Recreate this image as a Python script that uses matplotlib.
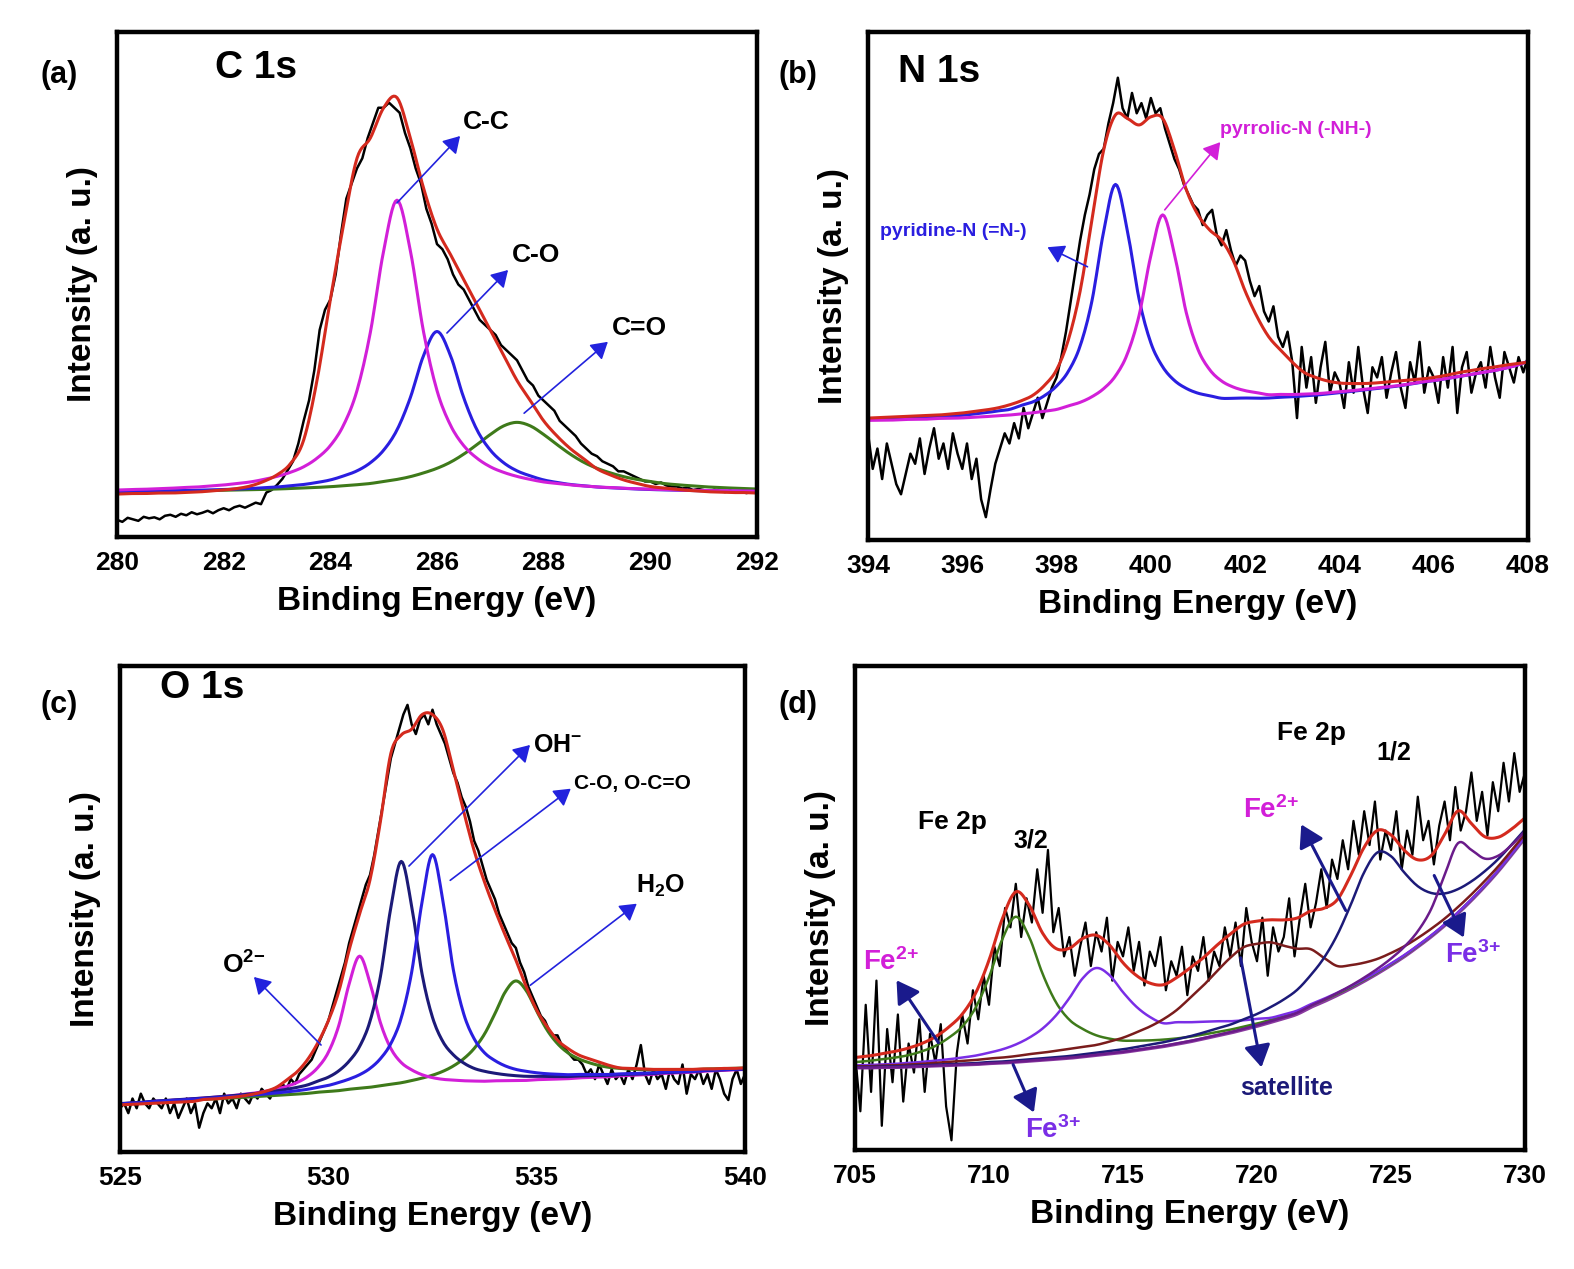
import numpy as np
import matplotlib
matplotlib.use("Agg")
import matplotlib.pyplot as plt

plt.rcParams['font.family'] = ['Liberation Sans', 'DejaVu Sans']
plt.rcParams['font.weight'] = 'bold'
plt.rcParams['mathtext.fontset'] = 'custom'
plt.rcParams['mathtext.bf'] = 'Liberation Sans:bold'
plt.rcParams['mathtext.rm'] = 'Liberation Sans:bold'
plt.rcParams['mathtext.default'] = 'bf'

W, H = 1574, 1269

# ---------------- (a) C 1s ----------------
a_raw_x0, a_raw_step = 280.0, 0.1
a_raw = [3.4, 3.0, 3.8, 3.5, 3.2, 4.0, 3.7, 3.9, 3.5, 4.2,
         4.4, 4.0, 4.6, 4.3, 4.9, 4.5, 4.8, 5.2, 4.7, 5.3,
         5.7, 5.3, 5.9, 6.2, 5.8, 6.3, 6.8, 6.5, 8.8, 9.3,
         10.3, 11.5, 13.2, 15.0, 18.5, 23, 27, 33, 41, 45,
         47, 52, 60, 67, 70, 73, 75, 79, 82, 85,
         85, 86, 85, 84, 80, 77, 73, 70, 65, 62,
         58, 57, 55, 52, 50, 49, 47, 45, 43, 42,
         41, 40, 38, 37, 36, 35, 33, 31, 30, 28,
         27, 26, 25, 23, 22, 21, 20, 18.5, 17.5, 16.5,
         16, 15, 14.5, 14, 13, 13, 12.5, 12, 11.5, 11,
         11, 10.5, 10.8, 10.2, 10, 10, 9.6, 9.8, 9.3, 9.5,
         9.3, 9.0, 9.4, 9.1, 8.9, 9.2, 8.8, 9.0, 8.7, 8.9,
         8.8]
a_fit_x0, a_fit_step = 280.0, 0.25
a_base = 8.7
a_red = [8.5, 8.6, 8.6, 8.7, 8.7, 8.8, 8.9, 9.1, 9.3, 9.6, 10.1, 11,
         12.3, 14.5, 19.2, 31, 47, 62, 75, 79, 85, 87, 79, 69,
         61, 56, 51, 46, 41, 36, 31, 27, 23, 20, 17.5, 15.5,
         13.5, 12.3, 11.3, 10.6, 10, 9.7, 9.4, 9.2, 9.0, 8.9, 8.8, 8.8,
         8.7]
a_cc = [.6, .7, .75, .85, .95, 1.1, 1.2, 1.4, 1.6, 1.9, 2.2, 2.7,
        3.3, 4.1, 5.2, 6.9, 9.4, 13.5, 20.3, 31.8, 48, 58, 48, 31.8,
        20.3, 13.5, 9.4, 6.9, 5.2, 4.1, 3.3, 2.7, 2.2, 1.9, 1.6, 1.4,
        1.2, 1.1, .95, .85, .75, .7, .6, .55, .5, .47, .44, .41,
        .38]
a_co = [.32, .35, .38, .42, .45, .5, .57, .63, .7, .8, .9, 1.05,
        1.2, 1.45, 1.7, 2.1, 2.6, 3.4, 4.4, 6.0, 8.5, 12.5, 18.9, 27.3,
        32, 27.3, 18.9, 12.5, 8.5, 6.0, 4.4, 3.4, 2.6, 2.1, 1.7, 1.45,
        1.2, 1.05, .9, .8, .7, .63, .57, .5, .45, .42, .38, .35,
        .32]
a_c_o = [.3, .32, .34, .36, .39, .42, .45, .5, .54, .6, .65, .72,
         .8, .9, 1.0, 1.12, 1.26, 1.45, 1.65, 1.9, 2.3, 2.7, 3.25, 4.0,
         4.9, 6.1, 7.7, 9.6, 11.6, 13.3, 14, 13.3, 11.6, 9.6, 7.7, 6.1,
         4.9, 4.0, 3.25, 2.7, 2.3, 1.9, 1.65, 1.45, 1.26, 1.12, 1.0, .9,
         .8]

# ---------------- (b) N 1s ----------------
b_raw_x0, b_raw_step = 394.0, 0.1
b_raw = [21, 14, 18, 12, 19, 15, 11, 9, 13, 17,
         15, 20, 13, 18, 22, 16, 19, 14, 21, 17,
         14, 19, 12, 16, 8, 4.5, 10, 15, 18, 21,
         19, 23, 20, 26, 22, 25, 28, 24, 27, 30,
         32, 36, 41, 47, 53, 59, 64, 68, 73, 76,
         77, 82, 86, 91, 85, 83, 88, 84, 86, 83,
         87, 84, 85, 81, 78, 75, 73, 70, 68, 66,
         65, 62, 64, 65, 60, 58, 61, 57, 54, 56,
         55, 51, 48, 50, 45, 43, 46, 40, 38, 41,
         35, 24, 38, 30, 36, 27, 34, 39, 29, 33,
         31, 26, 35, 29, 38, 30, 25, 34, 32, 36,
         28, 33, 37, 30, 26, 35, 31, 39, 29, 34,
         32, 27, 36, 30, 38, 25, 34, 37, 29, 33,
         35, 30, 38, 32, 28, 37, 34, 31, 36, 33,
         36]
b_fit_x0, b_fit_step = 394.0, 0.25
b_base = [23.3, 23.3, 23.3, 23.4, 23.4, 23.4, 23.5, 23.5, 23.5, 23.6, 23.6, 23.7,
          23.7, 23.8, 23.8, 23.9, 24.0, 24.1, 24.2, 24.3, 24.4, 24.5, 24.6, 24.7,
          24.8, 25.0, 25.1, 25.3, 25.5, 25.7, 25.9, 26.2, 26.5, 26.7, 26.9, 27.2,
          27.4, 27.7, 27.9, 28.2, 28.5, 28.8, 29.1, 29.4, 29.7, 30.0, 30.4, 30.8,
          31.1, 31.5, 31.9, 32.3, 32.7, 33.1, 33.6, 34.2, 35.0]
b_red = [24.0, 24.1, 24.2, 24.3, 24.4, 24.5, 24.6, 24.8, 25.0, 25.3, 25.6, 26.0,
         26.6, 27.4, 28.5, 30.5, 33.5, 39.4, 49, 63, 76.8, 83.7, 83, 81.7,
         83.3, 83, 76.8, 69, 64, 61, 59, 55, 49, 44, 40, 37.4,
         35, 33, 32, 31.3, 30.9, 30.8, 30.8, 30.9, 31.1, 31.3, 31.5, 31.7,
         32, 32.4, 32.9, 33.3, 33.7, 34.0, 34.4, 34.7, 35.0]
b_pyridine = [.41, .45, .5, .55, .62, .69, .8, .9, 1.05, 1.2, 1.45, 1.7,
              2.0, 2.7, 3.4, 4.55, 6.3, 9.1, 14, 22.75, 36.4, 45.5, 36.4, 22.75,
              14, 9.1, 6.3, 4.55, 3.4, 2.7, 2.0, 1.7, 1.45, 1.2, 1.05, .9,
              .8, .69, .62, .55, .5, .45, .41, .38, .35, .32, .3, .28,
              .26, .24, .23, .22, .2, .19, .18, .17, .16]
b_pyrrolic = [.25, .27, .3, .32, .35, .39, .43, .47, .53, .59, .69, .77,
              .9, 1.03, 1.24, 1.46, 1.7, 2.3, 2.9, 3.9, 5.4, 7.8, 12, 19.5,
              31.2, 39, 31.2, 19.5, 12, 7.8, 5.4, 3.9, 2.9, 2.3, 1.7, 1.46,
              1.24, 1.03, .9, .77, .69, .59, .53, .47, .43, .39, .35, .32,
              .3, .27, .25, .23, .22, .2, .19, .18, .17]

# ---------------- (c) O 1s ----------------
c_raw_x0, c_raw_step = 525.0, 0.1
c_raw = [9, 10, 8, 11, 9, 12, 10, 9, 11, 10,
         9, 11, 8, 10, 7, 9, 11, 8, 10, 5,
         8, 10, 9, 11, 8, 12, 10, 11, 9, 12,
         11, 10, 12, 11, 13, 12, 11, 13, 12, 14,
         13, 15, 14, 16, 17, 18, 19, 21, 23, 25,
         27, 30, 33, 36, 39, 43, 46, 49, 52, 55,
         57, 61, 66, 71, 76, 81, 84, 87, 90, 92,
         88, 86, 89, 90, 88, 91, 88, 86, 84, 81,
         78, 76, 73, 71, 68, 64, 62, 59, 56, 54,
         52, 49, 47, 45, 43, 42, 39, 37, 34, 32,
         30, 28, 27, 25, 24, 24, 22, 21, 20, 19,
         19, 18, 16, 17, 15, 18, 16, 14, 17, 15,
         16, 14, 17, 15, 18, 22, 16, 14, 17, 15,
         16, 13, 17, 15, 14, 18, 12, 16, 15, 17,
         14, 16, 13, 17, 15, 12, 10.7, 15, 17, 14,
         16]
c_fit_x0, c_fit_step = 525.0, 0.25
c_base = [9.7, 9.8, 9.9, 10.1, 10.2, 10.3, 10.4, 10.5, 10.6, 10.7, 10.8, 10.9,
          11.0, 11.1, 11.2, 11.3, 11.4, 11.5, 11.6, 11.8, 11.9, 12.0, 12.2, 12.3,
          12.4, 12.6, 12.7, 12.8, 13.0, 13.1, 13.2, 13.3, 13.5, 13.6, 13.7, 13.8,
          14.0, 14.1, 14.2, 14.3, 14.5, 14.6, 14.7, 14.8, 15.0, 15.1, 15.2, 15.3,
          15.5, 15.6, 15.7, 15.8, 16.0, 16.1, 16.2, 16.3, 16.5, 16.6, 16.7, 16.8,
          16.9]
c_red = [9.7, 9.8, 9.9, 10.0, 10.1, 10.2, 10.3, 10.4, 10.8, 10.9, 11.1, 11.3,
         11.6, 12, 12.5, 13.3, 14.8, 16.5, 19, 22.5, 27, 33, 41.6, 49,
         56, 68, 82, 85.8, 87, 90, 90, 86.8, 78.6, 70, 62, 55.5,
         49.8, 44.5, 39.5, 34, 29.2, 25.8, 23, 21.3, 20, 19.2, 18.5, 17.8,
         17.3, 17.2, 17.1, 17.0, 17.0, 17.0, 17.0, 17.0, 17.1, 17.1, 17.2, 17.2,
         17.3]
c_o2 = [.21, .23, .25, .28, .31, .34, .38, .43, .49, .56, .65, .76,
        .9, 1.06, 1.3, 1.65, 2.1, 2.8, 3.9, 5.6, 8.6, 14, 22.4, 28,
        22.4, 14, 8.6, 5.6, 3.9, 2.8, 2.1, 1.65, 1.3, 1.06, .9, .76,
        .65, .56, .49, .43, .38, .34, .31, .28, .25, .23, .21, .2,
        .18, .17, .16, .15, .14, .13, .12, .12, .11, .1, .1, .09,
        .09]
c_oh = [.26, .28, .3, .32, .35, .39, .42, .47, .51, .57, .64, .72,
        .82, .94, 1.08, 1.27, 1.5, 1.8, 2.2, 2.8, 3.5, 4.7, 6.5, 9.4,
        14.5, 23.5, 37.6, 47, 37.6, 23.5, 14.5, 9.4, 6.5, 4.7, 3.5, 2.8,
        2.2, 1.8, 1.5, 1.27, 1.08, .94, .82, .72, .64, .57, .51, .47,
        .42, .39, .35, .32, .3, .28, .26, .25, .23, .22, .21, .2,
        .19]
c_oco = [.21, .22, .24, .26, .28, .3, .33, .36, .4, .43, .48, .52,
         .58, .65, .74, .84, .96, 1.1, 1.3, 1.5, 1.8, 2.3, 2.8, 3.6,
         4.8, 6.6, 9.6, 14.8, 24, 38.4, 48, 38.4, 24, 14.8, 9.6, 6.6,
         4.8, 3.6, 2.8, 2.3, 1.8, 1.5, 1.3, 1.1, .96, .84, .74, .65,
         .58, .52, .48, .43, .4, .36, .33, .3, .28, .26, .24, .22,
         .21]
c_h2o = [.13, .135, .14, .15, .16, .17, .18, .19, .21, .22, .24, .25,
         .27, .29, .32, .35, .38, .42, .46, .5, .56, .63, .71, .8,
         .92, 1.06, 1.24, 1.45, 1.7, 2.1, 2.6, 3.3, 4.2, 5.6, 7.6, 10.5,
         14.5, 18.9, 21, 18.9, 14.5, 10.5, 7.6, 5.6, 4.2, 3.3, 2.6, 2.1,
         1.7, 1.45, 1.24, 1.06, .92, .8, .71, .63, .56, .5, .46, .42,
         .38]

# ---------------- (d) Fe 2p ----------------
d_raw_x0, d_raw_step = 705.0, 0.2
d_raw = [20, 8, 30, 12, 35, 5, 25, 14, 28, 10,
         22, 16, 27, 12, 24, 18, 26, 9, 2, 20,
         28, 22, 33, 27, 36, 30, 42, 38, 50, 46,
         55, 44, 52, 47, 58, 49, 62, 45, 50, 40,
         44, 36, 42, 47, 38, 45, 41, 48, 35, 43,
         40, 46, 37, 43, 34, 41, 38, 44, 33, 39,
         36, 42, 32, 40, 37, 44, 35, 41, 38, 46,
         40, 47, 38, 50, 43, 39, 48, 36, 46, 41,
         44, 52, 40, 48, 55, 46, 51, 58, 50, 60,
         56, 64, 58, 68, 61, 70, 63, 72, 60, 66,
         62, 70, 58, 66, 61, 73, 64, 68, 59, 67,
         72, 64, 75, 66, 70, 78, 68, 74, 65, 76,
         70, 80, 72, 82, 74, 78]
d_fit_x0, d_fit_step = 705.0, 0.5
d_base = [17.0, 17.0, 17.1, 17.1, 17.2, 17.3, 17.4, 17.5, 17.6, 17.7,
          17.9, 18.0, 18.2, 18.4, 18.6, 18.8, 19.0, 19.3, 19.6, 19.9,
          20.2, 20.6, 21.0, 21.4, 21.9, 22.4, 23.0, 23.6, 24.2, 24.9,
          25.6, 26.4, 27.2, 28.1, 29.5, 30.7, 32.0, 33.4, 34.9, 36.5,
          38.2, 40.0, 42.0, 44.1, 46.4, 48.9, 51.6, 54.5, 57.6, 61.0,
          64.5]
d_fe2_32 = [1.15, 1.4, 1.65, 2.0, 2.4, 3.1, 4.1, 5.7, 7.9, 11.7,
            17.8, 25.6, 30, 25.6, 17.8, 11.7, 7.9, 5.7, 4.1, 3.1,
            2.4, 2.0, 1.65, 1.4, 1.15, 1.0, .86, .76, .66, .58,
            .52, .47, .42, .38, .35, .32, .3, .27, .25, .23,
            .22, .2, .19, .18, .17, .16, .15, .14, .14, .13,
            .12]
d_fe3_32 = [.5, .55, .6, .7, .8, .9, 1.06, 1.25, 1.5, 1.8,
            2.2, 2.8, 3.6, 4.8, 6.5, 9, 12.4, 16.2, 18, 16.2,
            12.4, 9, 6.5, 4.8, 4.5, 4.0, 3.5, 3.0, 2.4, 1.9,
            1.5, .9, .8, .7, .6, .55, .5, .45, .4, .36,
            .33, .3, .27, .25, .23, .21, .2, .19, .18, .17,
            .16]
d_sat = [.3, .3, .35, .4, .45, .5, .6, .7, .8, .9,
         1.0, 1.1, 1.2, 1.4, 1.5, 1.7, 1.9, 2.0, 2.1, 2.5,
         3.0, 3.7, 4.5, 5.6, 7, 9, 11, 13.3, 15.5, 17,
         17, 16.5, 15, 13.5, 12, 9, 6, 4.8, 3.8, 3.0,
         2.5, 2.1, 1.8, 1.6, 1.4, 1.3, 1.2, 1.1, 1.0, .9,
         .8]
d_fe2_12 = [.14, .15, .16, .17, .18, .19, .2, .22, .23, .25,
            .27, .28, .3, .33, .35, .38, .42, .46, .5, .55,
            .6, .68, .75, .85, .96, 1.1, 1.26, 1.5, 1.7, 2.1,
            2.5, 3.1, 3.9, 5, 6.6, 9, 12.5, 17.3, 22.5, 25,
            22.5, 17.3, 12.5, 9, 6.6, 5, 3.9, 3.1, 2.5, 2.1,
            1.7]
d_fe3_12 = [.02, .02, .02, .02, .03, .03, .03, .03, .03, .04,
            .04, .04, .04, .05, .05, .05, .06, .06, .07, .07,
            .08, .08, .085, .09, .095, .1, .11, .12, .13, .15,
            .17, .19, .22, .25, .31, .37, .45, .55, .72, .96,
            1.35, 2.0, 3.2, 5.7, 10.4, 14.5, 10.4, 5.7, 3.2, 2.0,
            1.35]

RED = '#d42a1e'
MAG = '#d21fd8'
BLUE = '#2a1ee0'
GREEN = '#3e7a1a'
NAVY = '#1c1a78'
PURP = '#7a2ee6'
BROWN = '#7a1c1c'
ARROW_BLUE = '#2222dd'
ARROW_NAVY = '#1a1a8c'


def grid(x0, step, vals):
    return x0 + step * np.arange(len(vals))


def smooth(x, y, n=8):
    # Catmull-Rom spline through the sampled points, only for drawing
    x = np.asarray(x, float)
    y = np.asarray(y, float)
    yp = np.concatenate([[2 * y[0] - y[1]], y, [2 * y[-1] - y[-2]]])
    xs, ys = [], []
    t = np.linspace(0, 1, n, endpoint=False)
    for i in range(len(y) - 1):
        p0, p1, p2, p3 = yp[i], yp[i + 1], yp[i + 2], yp[i + 3]
        seg = 0.5 * (2 * p1 + (-p0 + p2) * t + (2 * p0 - 5 * p1 + 4 * p2 - p3) * t ** 2
                     + (-p0 + 3 * p1 - 3 * p2 + p3) * t ** 3)
        xs.append(x[i] + (x[i + 1] - x[i]) * t)
        ys.append(seg)
    xs.append([x[-1]])
    ys.append([y[-1]])
    return np.concatenate(xs), np.concatenate(ys)


def px(x, y):
    return (x, H - y)


fig = plt.figure(figsize=(W / 100, H / 100), dpi=100)


def make_ax(l, t, r, b, xlim, xticks):
    ax = fig.add_axes([l / W, (H - b) / H, (r - l) / W, (b - t) / H])
    ax.set_xlim(*xlim)
    ax.set_ylim(0, 100)
    ax.set_xticks(xticks)
    ax.set_yticks([])
    ax.tick_params(axis='x', length=0, labelsize=19, pad=10)
    for lab in ax.get_xticklabels():
        lab.set_fontweight('bold')
    for s in ax.spines.values():
        s.set_linewidth(3.2)
    ax.set_xlabel('Binding Energy (eV)', fontsize=24, fontweight='bold', labelpad=8)
    ax.set_ylabel('Intensity (a. u.)', fontsize=24, fontweight='bold', labelpad=14)
    return ax


def fit_line(ax, x, y, color, lw=2.2):
    xs, ys = smooth(x, y)
    ax.plot(xs, ys, color=color, lw=lw)


def arrow(tail, head, color, lw=1.2, hw=6):
    fig.patches.append(matplotlib.patches.FancyArrowPatch(
        px(*tail), px(*head), transform=None,
        arrowstyle=f'-|>,head_width={hw / 10},head_length={hw / 6}',
        color=color, lw=lw, mutation_scale=10))


def label(x, y, s, size=19, color='black', ha='left'):
    fig.text(x / W, 1 - y / H, s, fontsize=size, fontweight='bold', color=color, ha=ha, va='center')


# (a)
ax = make_ax(117, 32, 757, 537, (280, 292), range(280, 293, 2))
xf = grid(a_fit_x0, a_fit_step, a_red)
ax.plot(grid(a_raw_x0, a_raw_step, a_raw), a_raw, color='black', lw=1.8)
fit_line(ax, xf, a_base + np.array(a_c_o), GREEN)
fit_line(ax, xf, a_base + np.array(a_co), BLUE)
fit_line(ax, xf, a_base + np.array(a_cc), MAG)
fit_line(ax, xf, a_red, RED)

# (b)
ax = make_ax(868, 32, 1528, 540, (394, 408), range(394, 409, 2))
xf = grid(b_fit_x0, b_fit_step, b_red)
ax.plot(grid(b_raw_x0, b_raw_step, b_raw), b_raw, color='black', lw=1.8)
fit_line(ax, xf, np.array(b_base) + b_pyridine, BLUE)
fit_line(ax, xf, np.array(b_base) + b_pyrrolic, MAG)
fit_line(ax, xf, b_red, RED)

# (c)
ax = make_ax(120, 666, 745, 1152, (525, 540), range(525, 541, 5))
xf = grid(c_fit_x0, c_fit_step, c_red)
cb = np.array(c_base)
ax.plot(grid(c_raw_x0, c_raw_step, c_raw), c_raw, color='black', lw=1.8)
fit_line(ax, xf, cb + c_h2o, GREEN)
fit_line(ax, xf, cb + c_o2, MAG)
fit_line(ax, xf, cb + c_oh, NAVY)
fit_line(ax, xf, cb + c_oco, BLUE)
fit_line(ax, xf, c_red, RED)

# (d)
ax = make_ax(855, 666, 1525, 1150, (705, 730), range(705, 731, 5))
xf = grid(d_fit_x0, d_fit_step, d_base)
db = np.array(d_base)
comps = [(d_fe2_32, GREEN), (d_fe3_32, PURP), (d_sat, BROWN), (d_fe2_12, NAVY), (d_fe3_12, '#6a1b8a')]
d_total = db + sum(np.array(c) for c, _ in comps)
ax.plot(grid(d_raw_x0, d_raw_step, d_raw), d_raw, color='black', lw=1.6)
fit_line(ax, xf, db, '#8a3aa0', lw=2.6)
for c, col in comps:
    fit_line(ax, xf, db + np.array(c), col, lw=1.8)
fit_line(ax, xf, d_total, RED)

# panel letters and titles
for x, y, s in [(40, 75, '(a)'), (778, 75, '(b)'), (40, 705, '(c)'), (778, 705, '(d)')]:
    label(x, y, s, size=22)
label(215, 68, 'C 1s', size=28)
label(898, 72, 'N 1s', size=28)
label(160, 688, 'O 1s', size=28)

# (a) annotations
label(463, 122, 'C-C', size=19)
arrow((395, 205), (462, 134), ARROW_BLUE)
label(512, 255, 'C-O', size=19)
arrow((445, 335), (510, 268), ARROW_BLUE)
label(612, 328, 'C=O', size=19)
arrow((522, 415), (610, 340), ARROW_BLUE)

# (b) annotations
label(880, 232, 'pyridine-N (=N-)', size=14, color=BLUE)
arrow((1090, 268), (1045, 246), ARROW_BLUE)
label(1220, 130, 'pyrrolic-N (-NH-)', size=14, color=MAG)
arrow((1163, 212), (1222, 140), MAG)

# (c) annotations
label(222, 965, r'O$^{2{-}}$', size=19)
arrow((323, 1047), (252, 975), ARROW_BLUE)
label(533, 745, r'OH$^{{-}}$', size=18)
arrow((407, 868), (532, 743), ARROW_BLUE)
label(574, 783, 'C-O, O-C=O', size=15)
arrow((448, 882), (573, 787), ARROW_BLUE)
label(636, 886, r'H$_{2}$O', size=18)
arrow((528, 987), (639, 902), ARROW_BLUE)

# (d) annotations
label(918, 822, 'Fe 2p', size=19)
label(1013, 840, '3/2', size=18)
label(1277, 733, 'Fe 2p', size=19)
label(1376, 752, '1/2', size=18)
label(863, 962, r'Fe$^{2{+}}$', size=20, color=MAG)
arrow((940, 1045), (895, 978), ARROW_NAVY, lw=2.2, hw=8)
label(1025, 1130, r'Fe$^{3{+}}$', size=20, color=PURP)
arrow((1012, 1062), (1035, 1115), ARROW_NAVY, lw=2.2, hw=8)
label(1240, 1088, 'satellite', size=18, color=NAVY)
arrow((1240, 955), (1262, 1070), ARROW_NAVY, lw=2.2, hw=8)
label(1243, 810, r'Fe$^{2{+}}$', size=20, color=MAG)
arrow((1347, 913), (1300, 822), ARROW_NAVY, lw=2.2, hw=8)
label(1445, 955, r'Fe$^{3{+}}$', size=20, color=PURP)
arrow((1433, 873), (1465, 940), ARROW_NAVY, lw=2.2, hw=8)

fig.savefig('out.png', dpi=100)
